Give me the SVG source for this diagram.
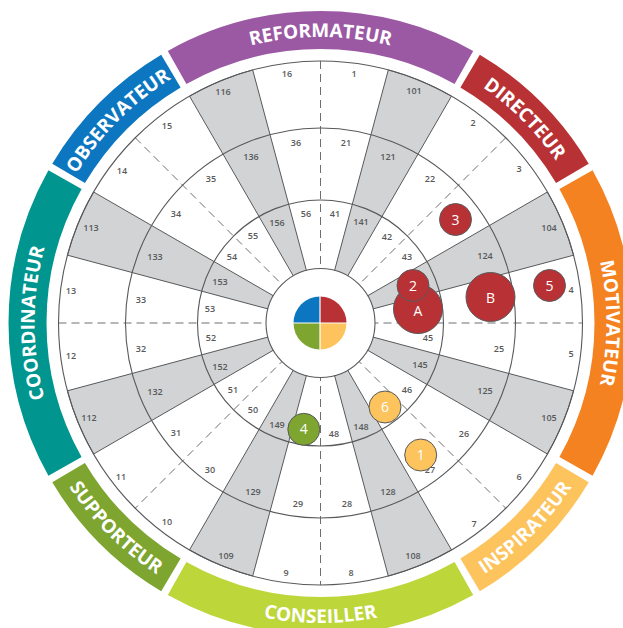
<svg xmlns="http://www.w3.org/2000/svg" width="623" height="628" viewBox="0 0 623 628">
<style>
.band{fill:none;stroke-width:38}
.bt{font-family:"Open Sans","Liberation Sans",sans-serif;font-size:19px;font-weight:700;fill:#fff}
.wedge{fill:#d1d3d4;stroke:#58595b;stroke-width:1}
.dash{fill:none;stroke:#6d6e71;stroke-width:1;stroke-dasharray:8 5}
.ring{fill:none;stroke:#58595b;stroke-width:1.1}
.num{font-family:"Open Sans","Liberation Sans",sans-serif;font-size:9px;font-weight:600;fill:#58595b;text-anchor:middle}
.bub{stroke:#58595b;stroke-width:1}
.bl{font-family:"Open Sans","Liberation Sans",sans-serif;font-size:14px;fill:#fff;text-anchor:middle}
.red{fill:#b83235}.yel{fill:#fdc35c}.grn{fill:#7da52f}
</style>
<defs>
<path id="p1" d="M136.66,103.91 A286,286 0 0 1 504.34,103.91"/>
<path id="p2" d="M394.52,46.75 A286,286 0 0 1 596.75,248.98"/>
<path id="p3" d="M568.18,180 A286,286 0 0 1 568.18,466"/>
<path id="p4" d="M398.15,612.78 A300,300 0 0 0 610.28,400.65"/>
<path id="p5" d="M170.5,582.8 A300,300 0 0 0 470.5,582.8"/>
<path id="p6" d="M30.72,400.65 A300,300 0 0 0 242.85,612.78"/>
<path id="p7" d="M72.82,466 A286,286 0 0 1 72.82,180"/>
<path id="p8" d="M44.25,248.98 A286,286 0 0 1 246.48,46.75"/>
</defs>
<rect width="623" height="628" fill="#fff"/>

<g id="role-reformateur">
<path class="band" stroke="#9b59a4" d="M177.1,67.5 A293,293 0 0 1 463.9,67.5"/>
<text class="bt"><textPath href="#p1" startOffset="50%" text-anchor="middle">REFORMATEUR</textPath></text>
</g>
<g id="role-directeur">
<path class="band" stroke="#b83235" d="M470.1,71.1 A293,293 0 0 1 572.4,173.4"/>
<text class="bt"><textPath href="#p2" startOffset="50%" text-anchor="middle">DIRECTEUR</textPath></text>
</g>
<g id="role-motivateur">
<path class="band" stroke="#f58220" d="M576,179.6 A293,293 0 0 1 576,466.4"/>
<text class="bt"><textPath href="#p3" startOffset="50%" text-anchor="middle">MOTIVATEUR</textPath></text>
</g>
<g id="role-inspirateur">
<path class="band" stroke="#fdc35c" d="M572.4,472.6 A293,293 0 0 1 470.1,574.9"/>
<text class="bt"><textPath href="#p4" startOffset="50%" text-anchor="middle">INSPIRATEUR</textPath></text>
</g>
<g id="role-conseiller">
<path class="band" stroke="#bdd63a" d="M463.9,578.5 A293,293 0 0 1 177.1,578.5"/>
<text class="bt"><textPath href="#p5" startOffset="50%" text-anchor="middle">CONSEILLER</textPath></text>
</g>
<g id="role-supporteur">
<path class="band" stroke="#7da52f" d="M170.9,574.9 A293,293 0 0 1 68.6,472.6"/>
<text class="bt"><textPath href="#p6" startOffset="50%" text-anchor="middle">SUPPORTEUR</textPath></text>
</g>
<g id="role-coordinateur">
<path class="band" stroke="#00968f" d="M65,466.4 A293,293 0 0 1 65,179.6"/>
<text class="bt"><textPath href="#p7" startOffset="50%" text-anchor="middle">COORDINATEUR</textPath></text>
</g>
<g id="role-observateur">
<path class="band" stroke="#0c77c0" d="M68.6,173.4 A293,293 0 0 1 170.9,71.1"/>
<text class="bt"><textPath href="#p8" startOffset="50%" text-anchor="middle">OBSERVATEUR</textPath></text>
</g>

<g id="target">
<circle cx="320.5" cy="323" r="262" fill="#fff"/>
<g id="grey-wedges">
<path class="wedge" d="M320.5,323 L388.31,69.93 A262,262 0 0 1 451.5,96.1 Z"/>
<path class="wedge" d="M320.5,323 L547.4,192 A262,262 0 0 1 573.57,255.19 Z"/>
<path class="wedge" d="M320.5,323 L573.57,390.81 A262,262 0 0 1 547.4,454 Z"/>
<path class="wedge" d="M320.5,323 L451.5,549.9 A262,262 0 0 1 388.31,576.07 Z"/>
<path class="wedge" d="M320.5,323 L252.69,576.07 A262,262 0 0 1 189.5,549.9 Z"/>
<path class="wedge" d="M320.5,323 L93.6,454 A262,262 0 0 1 67.43,390.81 Z"/>
<path class="wedge" d="M320.5,323 L67.43,255.19 A262,262 0 0 1 93.6,192 Z"/>
<path class="wedge" d="M320.5,323 L189.5,96.1 A262,262 0 0 1 252.69,69.93 Z"/>
</g>
<g id="dashed-axes">
<path class="dash" d="M320.5,61 V585"/>
<path class="dash" d="M58.5,323 H582.5"/>
<path class="dash" d="M505.76,137.74 L135.24,508.26"/>
<path class="dash" d="M135.24,137.74 L505.76,508.26"/>
</g>
<circle class="ring" cx="320.5" cy="323" r="262"/>
<circle class="ring" cx="320.5" cy="323" r="195"/>
<circle class="ring" cx="320.5" cy="323" r="123"/>
<circle cx="320.5" cy="323" r="54.5" fill="#fff" stroke="#58595b" stroke-width="1.1"/>
</g>

<g id="center-pie">
<path fill="#0c77c0" d="M320,323 L320,296.5 A26.5,26.5 0 0 0 293.5,323 Z"/>
<path fill="#b83235" d="M320,323 L346.5,323 A26.5,26.5 0 0 0 320,296.5 Z"/>
<path fill="#fdc35c" d="M320,323 L320,349.5 A26.5,26.5 0 0 0 346.5,323 Z"/>
<path fill="#7da52f" d="M320,323 L293.5,323 A26.5,26.5 0 0 0 320,349.5 Z"/>
<path d="M320,296 V350 M293,323 H347" stroke="#fff" stroke-width="1.2"/>
</g>

<g id="cell-labels" class="num">
<text x="287" y="76.7">16</text><text x="354" y="77.2">1</text><text x="414" y="94.2">101</text><text x="223" y="95.2">116</text>
<text x="296" y="146.2">36</text><text x="346" y="146.2">21</text><text x="388" y="160.2">121</text><text x="251" y="160.2">136</text>
<text x="167" y="129.2">15</text><text x="122" y="174.2">14</text><text x="91" y="231.2">113</text><text x="71" y="294.2">13</text>
<text x="211" y="182.2">35</text><text x="176" y="217.2">34</text><text x="155" y="260.2">133</text><text x="141" y="303.2">33</text>
<text x="253" y="239.2">55</text><text x="232" y="260.2">54</text><text x="220" y="285.2">153</text><text x="210" y="312.2">53</text>
<text x="277" y="226.2">156</text><text x="306" y="217.2">56</text>
<text x="473" y="126.2">2</text><text x="519" y="172.2">3</text><text x="549" y="231.2">104</text><text x="571" y="293.2">4</text>
<text x="430" y="182.2">22</text><text x="485" y="259.2">124</text><text x="335" y="217.2">41</text><text x="361" y="225.2">141</text>
<text x="387" y="240.2">42</text><text x="407" y="260.2">43</text>
<text x="211" y="341.2">52</text><text x="141" y="352.2">32</text><text x="71" y="359.2">12</text><text x="220" y="370.2">152</text>
<text x="155" y="395.2">132</text><text x="89" y="421.2">112</text><text x="233" y="393.2">51</text><text x="253" y="413.2">50</text>
<text x="176" y="436.2">31</text><text x="277" y="428.2">149</text><text x="210" y="473.2">30</text><text x="121" y="480.2">11</text>
<text x="253" y="495.2">129</text><text x="298" y="507.2">29</text><text x="167" y="525.2">10</text><text x="226" y="559.2">109</text>
<text x="286" y="576.2">9</text>
<text x="428" y="341.2">45</text><text x="499" y="352.2">25</text><text x="571" y="357.2">5</text><text x="420" y="368.2">145</text>
<text x="485" y="394.2">125</text><text x="549" y="421.2">105</text><text x="407" y="393.2">46</text><text x="361" y="430.2">148</text>
<text x="334" y="437.2">48</text><text x="464" y="437.2">26</text><text x="430" y="473.2">27</text><text x="519" y="480.2">6</text>
<text x="388" y="495.2">128</text><text x="347" y="507.2">28</text><text x="474" y="527.2">7</text><text x="413" y="559.2">108</text>
<text x="351" y="576.2">8</text>
</g>

<g id="bubble-A"><circle class="bub red" cx="418" cy="309" r="24.5"/><text class="bl" x="418" y="316" font-size="15">A</text></g>
<g id="bubble-2"><circle class="bub red" cx="413" cy="285.5" r="16"/><text class="bl" x="413" y="290.5">2</text></g>
<g id="bubble-B"><circle class="bub red" cx="490.5" cy="297" r="24.5"/><text class="bl" x="490.5" y="302.5" font-size="15">B</text></g>
<g id="bubble-3"><circle class="bub red" cx="455.5" cy="219.5" r="16"/><text class="bl" x="455.5" y="224.5">3</text></g>
<g id="bubble-5"><circle class="bub red" cx="549.5" cy="285.5" r="16"/><text class="bl" x="549.5" y="290.5">5</text></g>
<g id="bubble-6"><circle class="bub yel" cx="385" cy="407" r="16"/><text class="bl" x="385" y="412">6</text></g>
<g id="bubble-1"><circle class="bub yel" cx="420.7" cy="455" r="16"/><text class="bl" x="420.7" y="460">1</text></g>
<g id="bubble-4"><circle class="bub grn" cx="303.8" cy="429.3" r="16"/><text class="bl" x="303.8" y="434.3">4</text></g>
</svg>
